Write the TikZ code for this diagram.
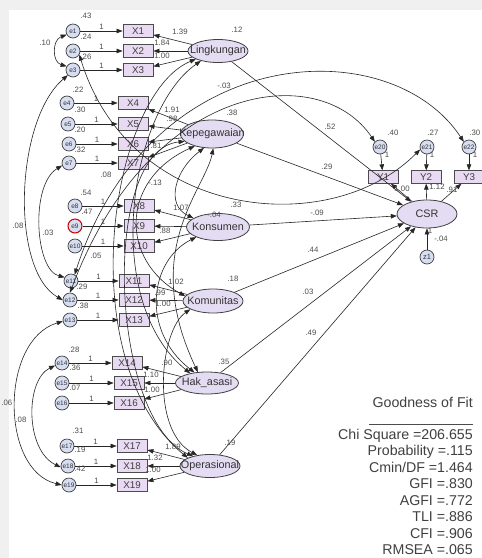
\documentclass[tikz,border=0pt]{standalone}
\usepackage{fontspec}
\setmainfont{Liberation Sans}
\usepackage{tikz}
\usetikzlibrary{positioning,shapes.geometric,arrows.meta}
\definecolor{boxfill}{RGB}{232,218,242}
\definecolor{latfill}{RGB}{228,220,242}
\definecolor{errfill}{RGB}{216,222,242}
\definecolor{panel}{RGB}{240,240,240}

\begin{document}
\begin{tikzpicture}[x=1pt, y=-1pt,
    obs/.style={draw=black!70, line width=0.8pt, fill=boxfill, minimum width=30pt,
                minimum height=12.5pt, inner sep=0pt, font=\fontsize{9.8}{10}\selectfont, text=black!75},
    lat/.style={ellipse, draw=black!75, line width=0.8pt, fill=latfill, minimum width=60pt,
                minimum height=23pt, inner sep=0pt},
    lattext/.style={font=\fontsize{10.8}{11}\selectfont, text=black!80, inner sep=0pt},
    err/.style={circle, draw=black!75, line width=0.7pt, fill=errfill, minimum size=14pt,
                inner sep=0pt, font=\fontsize{6.5}{7}\selectfont, text=black!80},
    arr/.style={-{Triangle[length=6pt,width=4.5pt]}, line width=0.6pt, black!85},
    cov/.style={{Triangle[length=6pt,width=4.5pt]}-{Triangle[length=6pt,width=4.5pt]}, line width=0.6pt, black!85},
    num/.style={font=\fontsize{7.8}{8}\selectfont, text=black!70, inner sep=0.5pt},
    gof/.style={anchor=east, font=\fontsize{14.2}{16.43}\selectfont, text=black!75, inner sep=0pt}
  ]
    \useasboundingbox (0,0) rectangle (482,558);
    \fill[panel] (0,0) rectangle (482,558);
    \fill[white] (9,10) rectangle (482,558);

    % indicators and their errors
    \node[err] (e1) at (73,31) {e1};   \node[obs] (x1) at (138,31) {X1};
    \node[err] (e2) at (73,51) {e2};   \node[obs] (x2) at (138,51) {X2};
    \node[err] (e3) at (73,70) {e3};   \node[obs] (x3) at (138,70) {X3};
    \node[err] (e4) at (67,103) {e4};  \node[obs] (x4) at (133,103) {X4};
    \node[err] (e5) at (68,124) {e5};  \node[obs] (x5) at (133,124) {X5};
    \node[err] (e6) at (69,144) {e6};  \node[obs] (x6) at (133,144) {X6};
    \node[err] (e7) at (69,163) {e7};  \node[obs] (x7) at (133,163) {X7};
    \node[err] (e8) at (75,206) {e8};  \node[obs] (x8) at (139,206) {X8};
    \node[err, draw=red!80!black, line width=1pt] (e9) at (75,226) {e9};
    \node[obs] (x9) at (139,226) {X9};
    \node[err] (e10) at (75,246) {e10}; \node[obs] (x10) at (139,246) {X10};
    \node[err] (e11) at (71,281) {e11}; \node[obs] (x11) at (134,281) {X11};
    \node[err] (e12) at (70,300) {e12}; \node[obs] (x12) at (134,300) {X12};
    \node[err] (e13) at (70,320) {e13}; \node[obs] (x13) at (134,320) {X13};
    \node[err] (e14) at (62,363) {e14}; \node[obs] (x14) at (127,363) {X14};
    \node[err] (e15) at (62,383) {e15}; \node[obs] (x15) at (129,383) {X15};
    \node[err] (e16) at (62,403) {e16}; \node[obs] (x16) at (129,403) {X16};
    \node[err] (e17) at (67,446) {e17}; \node[obs] (x17) at (132,446) {X17};
    \node[err] (e18) at (68,466) {e18}; \node[obs] (x18) at (132,466) {X18};
    \node[err] (e19) at (69,485) {e19}; \node[obs] (x19) at (132,485) {X19};

    % latent constructs
    \node[lat, label={[lattext]center:Lingkungan}] (lingk) at (218,51) {};
    \node[lat, minimum width=63pt, minimum height=28pt, label={[lattext]center:Kepegawaian}] (kepeg) at (212,134) {};
    \node[lat, minimum width=63pt, minimum height=27pt, label={[lattext]center:Konsumen}] (kons) at (218,227) {};
    \node[lat, minimum height=24pt, label={[lattext]center:Komunitas}] (komun) at (213,301) {};
    \node[lat, minimum width=63pt, minimum height=22pt, label={[lattext]center:Hak\_asasi}] (hak) at (207,383) {};
    \node[lat, label={[lattext]center:Operasional}] (oper) at (210,466) {};
    \node[lat, minimum height=28pt, label={[lattext]center:CSR}] (csr) at (427,214) {};
    \node[err, font=\fontsize{7.5}{8}\selectfont] (z1) at (427,257) {z1};
    \node[obs] (y1) at (383,177) {Y1};
    \node[obs] (y2) at (426,177) {Y2};
    \node[obs] (y3) at (469,177) {Y3};
    \node[err] (e20) at (380,147) {e20};
    \node[err] (e21) at (427,147) {e21};
    \node[err] (e22) at (469,147) {e22};

    % error paths
    \draw[arr] (e1) -- node[num, above=1pt]{1} (x1); \draw[arr] (e2) -- node[num, above=1pt]{1} (x2);
    \draw[arr] (e3) -- node[num, above=1pt]{1} (x3);
    \draw[arr] (e4) -- node[num, above=1pt]{1} (x4); \draw[arr] (e5) -- node[num, above=1pt]{1} (x5);
    \draw[arr] (e6) -- node[num, above=1pt]{1} (x6); \draw[arr] (e7) -- node[num, above=1pt]{1} (x7);
    \draw[arr] (e8) -- node[num, above=1pt]{1} (x8); \draw[arr] (e9) -- node[num, above=1pt]{1} (x9);
    \draw[arr] (e10) -- node[num, above=1pt]{1} (x10);
    \draw[arr] (e11) -- node[num, above=1pt]{1} (x11); \draw[arr] (e12) -- node[num, above=1pt]{1} (x12);
    \draw[arr] (e13) -- node[num, above=1pt]{1} (x13);
    \draw[arr] (e14) -- node[num, above=1pt]{1} (x14); \draw[arr] (e15) -- node[num, above=1pt]{1} (x15);
    \draw[arr] (e16) -- node[num, above=1pt]{1} (x16);
    \draw[arr] (e17) -- node[num, above=1pt]{1} (x17); \draw[arr] (e18) -- node[num, above=1pt]{1} (x18);
    \draw[arr] (e19) -- node[num, above=1pt]{1} (x19);

    % loadings
    \draw[arr] (lingk) -- (x1); \draw[arr] (lingk) -- (x2); \draw[arr] (lingk) -- (x3);
    \draw[arr] (kepeg) -- (x4); \draw[arr] (kepeg) -- (x5);
    \draw[arr] (kepeg) -- (x6); \draw[arr] (kepeg) -- (x7);
    \draw[arr] (kons) -- (x8); \draw[arr] (kons) -- (x9); \draw[arr] (kons) -- (x10);
    \draw[arr] (komun) -- (x11); \draw[arr] (komun) -- (x12); \draw[arr] (komun) -- (x13);
    \draw[arr] (hak) -- (x14); \draw[arr] (hak) -- (x15); \draw[arr] (hak) -- (x16);
    \draw[arr] (oper) -- (x17); \draw[arr] (oper) -- (x18); \draw[arr] (oper) -- (x19);

    % structural paths
    \draw[arr] (lingk) -- (csr); \draw[arr] (kepeg) -- (csr); \draw[arr] (kons) -- (csr);
    \draw[arr] (komun) -- (csr); \draw[arr] (hak) -- (csr); \draw[arr] (oper) -- (csr);
    \draw[arr] (csr) -- (y1); \draw[arr] (csr) -- (y2); \draw[arr] (csr) -- (y3);
    \draw[arr] (e20) -- (y1); \draw[arr] (e21) -- (y2); \draw[arr] (e22) -- (y3);
    \draw[arr] (z1) -- (csr);

    % covariances between errors
    \draw[cov] (e1.210) .. controls (52,40) and (52,62) .. (e3.150);
    \draw[cov] (e3.225) .. controls (15,120) and (10,270) .. (e12.180);
    \draw[cov] (e7.200) .. controls (30,185) and (35,270) .. (e11.150);
    \draw[cov] (e13.190) .. controls (0,340) and (0,470) .. (e19.180);
    \draw[cov] (e14.200) .. controls (25,380) and (25,450) .. (e18.190);
    \draw[cov] (e11.60) .. controls (150,40) and (390,30) .. (e22.north west);
    \draw[cov] (e12.north) .. controls (150,80) and (320,60) .. (e20.north west);
    \draw[cov] (e2.-30) .. controls (130,220) and (330,240) .. (e21.200);

    % covariances between constructs
    \draw[cov] (lingk.200) .. controls (110,95) and (70,360) .. (oper.160);
    \draw[cov] (lingk.210) .. controls (130,110) and (100,300) .. (hak.150);
    \draw[cov] (kepeg.240) .. controls (175,170) and (165,205) .. (kons.160);
    \draw[cov] (kepeg.215) .. controls (120,180) and (120,260) .. (komun.170);
    \draw[cov] (kepeg.195) .. controls (100,150) and (110,420) .. (oper.150);
    \draw[cov] (kons.205) .. controls (150,260) and (140,330) .. (hak.140);
    \draw[cov] (kepeg.275) .. controls (205,190) and (140,250) .. (hak.130);
    \draw[cov] (komun.200) .. controls (160,330) and (150,430) .. (oper.140);

    % estimates
    \node[num] at (86,16) {.43};  \node[num] at (86,37) {.24};  \node[num] at (86,57) {.26};
    \node[num] at (78,90) {.22};  \node[num] at (80,110) {.30}; \node[num] at (80,130) {.20};
    \node[num] at (80,150) {.32}; \node[num] at (86,193) {.54}; \node[num] at (87,212) {.47};
    \node[num] at (82,287) {.29}; \node[num] at (83,306) {.38};
    \node[num] at (74,350) {.28}; \node[num] at (75,368) {.36}; \node[num] at (75,388) {.07};
    \node[num] at (78,431) {.31}; \node[num] at (80,450) {.19}; \node[num] at (80,469) {.42};
    \node[num] at (45,43) {.10};  \node[num] at (18,226) {.08}; \node[num] at (48,233) {.03};
    \node[num, anchor=east] at (13,403) {.06}; \node[num] at (21,420) {.08};
    \node[num] at (106,175) {.08}; \node[num] at (96,256) {.05};
    \node[num] at (155,183) {-.13}; \node[num] at (236,205) {.33}; \node[num] at (224,86) {-.03};
    \node[num] at (237,30) {.12};  \node[num] at (232,113) {.38}; \node[num] at (214,215) {-.04};
    \node[num] at (233,279) {.18}; \node[num] at (224,362) {.35}; \node[num] at (230,443) {.19};
    \node[num] at (180,32) {1.39}; \node[num] at (162,43) {1.84}; \node[num] at (162,56) {1.00};
    \node[num] at (172,110) {1.91}; \node[num] at (172,119) {.98}; \node[num] at (156,146) {.81};
    \node[num] at (181,208) {1.07}; \node[num] at (165,231) {.88};
    \node[num] at (176,282) {1.02}; \node[num] at (160,293) {.99}; \node[num] at (163,304) {1.00};
    \node[num] at (167,363) {.90}; \node[num] at (151,375) {1.10}; \node[num] at (152,390) {1.00};
    \node[num] at (173,447) {1.89}; \node[num] at (155,458) {1.32}; \node[num] at (153,470) {1.00};
    \node[num] at (330,127) {.52}; \node[num] at (327,167) {.29}; \node[num] at (317,213) {-.09};
    \node[num] at (313,250) {.44}; \node[num] at (308,292) {.03}; \node[num] at (311,333) {.49};
    \node[num] at (393,133) {.40}; \node[num] at (433,133) {.27}; \node[num, anchor=east] at (481,133) {.30};
    \node[num] at (387,155) {1};   \node[num] at (432,155) {1};   \node[num] at (475,155) {1};
    \node[num] at (402,189) {1.00}; \node[num] at (437,187) {1.12}; \node[num] at (452,190) {.91};
    \node[num] at (430,231) {1};   \node[num] at (441,239) {-.04};

    % goodness of fit
    \node[gof] (goft) at (473,402) {Goodness of Fit};
    \draw[black!70, line width=0.7pt] (369,424) -- (goft.east |- 0,424);
    \node[gof, anchor=north east, align=right] (gofv) at (473,429)
      {Chi Square =206.655\\Probability =.115\\Cmin/DF =1.464\\GFI =.830\\AGFI =.772\\TLI =.886\\CFI =.906\\RMSEA =.065};
  \end{tikzpicture}
\end{document}
